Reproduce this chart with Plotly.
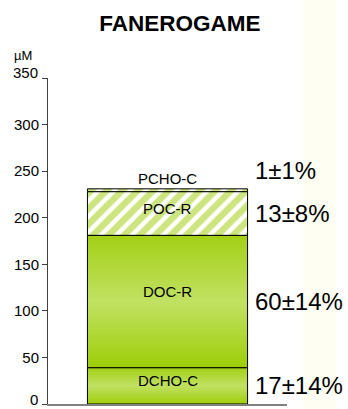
import plotly.graph_objects as go

# Stacked carbon pools (µM)
segments = ["DCHO-C", "DOC-R", "POC-R", "PCHO-C"]
values = [39, 142, 47, 3]
shares = ["17±14%", "60±14%", "13±8%", "1±1%"]
y_ticks = [0, 50, 100, 150, 200, 250, 300, 350]

hatch_green = "#99CC00"
green_scale = [[0, "#9ECE08"], [0.5, "#C1E163"], [1, "#A3D015"]]
bar_width = 0.67

fig = go.Figure()
base = 0
for name, val in zip(segments, values):
    top = base + val
    if name.startswith("P"):
        # particulate pools: white with diagonal green hatching
        fig.add_trace(go.Bar(
            x=[0], y=[val], base=[base], width=bar_width, name=name,
            marker=dict(color="white", line=dict(color="black", width=1),
                        pattern=dict(shape="/", fgcolor=hatch_green, bgcolor="white",
                                     size=11, solidity=0.6)),
            hoverinfo="skip", showlegend=False))
    else:
        # dissolved pools: green gradient fill
        half = bar_width / 2
        fig.add_trace(go.Scatter(
            x=[-half, half, half, -half, -half], y=[base, base, top, top, base],
            mode="lines", fill="toself", name=name,
            fillgradient=dict(type="vertical", colorscale=green_scale),
            line=dict(color="black", width=1),
            hoverinfo="skip", showlegend=False))
    base = top

# Labels inside the segments and percentage shares to the right
base = 0
label_shift = {"DCHO-C": 5, "DOC-R": 10, "POC-R": 5}
share_shift = {"PCHO-C": 20}
for name, val, share in zip(segments, values, shares):
    mid = base + val / 2
    top = base + val
    if name == "PCHO-C":
        fig.add_annotation(x=0, y=top, text=name, showarrow=False, yshift=10,
                           font=dict(size=15, color="black"))
    else:
        fig.add_annotation(x=0, y=mid, text=name, showarrow=False,
                           yshift=label_shift[name], font=dict(size=15, color="black"))
    fig.add_annotation(x=0.358, y=mid, text=share, showarrow=False, xanchor="left",
                       yshift=share_shift.get(name, 0),
                       font=dict(size=24, color="black"))
    base = top

# end tick labels are placed by hand: the top one sits a little above its tick,
# the bottom one stays inside the page
tick_text = [""] + [str(v) for v in y_ticks[1:-1]] + [""]
fig.add_annotation(xref="paper", yref="y", x=0, y=y_ticks[-1], xanchor="right",
                   xshift=-9, yshift=6, text=str(y_ticks[-1]), showarrow=False,
                   borderpad=0, font=dict(size=15, color="black"))
fig.add_annotation(xref="paper", yref="y", x=0, y=y_ticks[0], xanchor="right",
                   yanchor="bottom", xshift=-9, yshift=-5, text=str(y_ticks[0]),
                   showarrow=False, borderpad=0, font=dict(size=15, color="black"))
fig.add_annotation(xref="paper", yref="y", x=-0.105, y=y_ticks[-1], yshift=23,
                   text="µM", showarrow=False, xanchor="center", borderpad=0,
                   font=dict(size=13, color="black"))

# pale strip at the right edge of the page
fig.add_shape(type="rect", xref="paper", yref="paper", x0=1.067, x1=1.205,
              y0=-0.02, y1=1.3, fillcolor="#FFFEF2", line=dict(width=0), layer="below")

fig.update_layout(
    width=348, height=409,
    margin=dict(l=48, r=61, t=78, b=5),
    barmode="overlay",
    plot_bgcolor="white", paper_bgcolor="white",
    font=dict(family="Liberation Sans, Arial, sans-serif", color="black"),
    title=dict(text="<b>FANEROGAME</b>", x=180 / 348, xanchor="center",
               y=1 - 23 / 409, yanchor="middle", font=dict(size=22.5, color="black")),
)
fig.update_xaxes(range=[-0.5, 0.5], showticklabels=False, ticks="", showgrid=False,
                 zeroline=False, showline=True, linecolor="#808080", linewidth=1.5,
                 automargin=False)
fig.update_yaxes(range=[0, 350], tickvals=y_ticks, ticktext=tick_text, ticks="outside",
                 ticklen=5, tickcolor="#404040", showgrid=False, zeroline=False,
                 showline=True, linecolor="#404040", linewidth=1, automargin=False,
                 tickfont=dict(size=15, color="black"))

fig.write_html("out.html")
